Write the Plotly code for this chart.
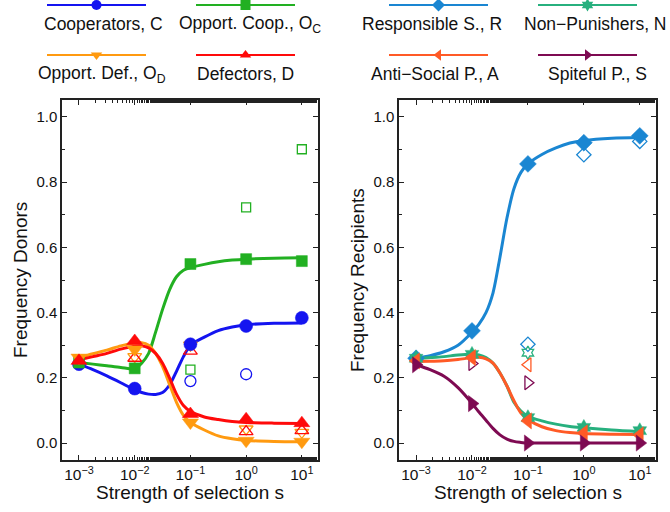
import plotly.graph_objects as go

W, H = 670, 512
FONT = "Liberation Sans, Arial, Helvetica, sans-serif"

# ---------------- data ----------------
s = [1e-3, 1e-2, 1e-1, 1, 10]
s_exp = [1e-2, 1e-1, 1, 10]
curve_log = [-3, -2.75, -2.5, -2.25, -2, -1.875, -1.75, -1.625, -1.5, -1.375,
             -1.25, -1.125, -1, -0.75, -0.5, -0.25, 0, 0.5, 1]

# Donors (simulation = filled, experiment = open)
C_sim = [0.242, 0.167, 0.303, 0.359, 0.384]
OC_sim = [0.247, 0.229, 0.549, 0.564, 0.558]
OD_sim = [0.262, 0.287, 0.063, 0.007, 0.004]
D_sim = [0.252, 0.313, 0.089, 0.073, 0.061]

C_exp = [None, 0.19, 0.211, None]
OC_exp = [None, 0.225, 0.723, 0.901]
OD_exp = [0.265, 0.30, 0.043, 0.033]
D_exp = [0.26, 0.282, 0.035, 0.038]

C_fit = [0.242, 0.225, 0.206, 0.185, 0.163, 0.155, 0.150, 0.149, 0.155, 0.178,
         0.22, 0.265, 0.30, 0.325, 0.345, 0.356, 0.363, 0.367, 0.368]
OC_fit = [0.247, 0.242, 0.237, 0.232, 0.228, 0.245, 0.275, 0.34, 0.41, 0.47,
          0.51, 0.53, 0.538, 0.548, 0.556, 0.561, 0.564, 0.567, 0.568]
OD_fit = [0.262, 0.274, 0.285, 0.298, 0.307, 0.308, 0.300, 0.275, 0.235, 0.18,
          0.125, 0.085, 0.063, 0.04, 0.022, 0.013, 0.008, 0.005, 0.004]
D_fit = [0.255, 0.265, 0.275, 0.288, 0.297, 0.298, 0.292, 0.275, 0.245, 0.2,
         0.15, 0.115, 0.097, 0.08, 0.072, 0.066, 0.063, 0.061, 0.06]

# Recipients
R_sim = [0.26, 0.344, 0.856, 0.921, 0.942]
N_sim = [0.26, 0.272, 0.078, 0.048, 0.038]
A_sim = [0.252, 0.262, 0.068, 0.031, 0.025]
S_sim = [0.24, 0.121, 0.0, 0.0, 0.0]

R_exp = [None, 0.303, 0.884, 0.925]
N_exp = [None, 0.277, None, None]
A_exp = [None, 0.24, None, None]
S_exp = [0.244, 0.185, None, None]

R_fit = [0.26, 0.268, 0.28, 0.30, 0.34, 0.365, 0.40, 0.46, 0.57, 0.69,
         0.78, 0.83, 0.856, 0.885, 0.905, 0.92, 0.928, 0.935, 0.937]
N_fit = [0.258, 0.262, 0.265, 0.27, 0.272, 0.27, 0.262, 0.245, 0.215, 0.175,
         0.125, 0.098, 0.082, 0.068, 0.058, 0.051, 0.047, 0.04, 0.035]
A_fit = [0.25, 0.251, 0.252, 0.256, 0.262, 0.263, 0.258, 0.245, 0.215, 0.175,
         0.13, 0.092, 0.072, 0.05, 0.038, 0.032, 0.029, 0.027, 0.026]
S_fit = [0.24, 0.225, 0.205, 0.17, 0.122, 0.095, 0.07, 0.045, 0.025, 0.012,
         0.005, 0.002, 0.0, 0.0, 0.0, 0.0, 0.0, 0.0, 0.0]

x_ticks = [1e-3, 1e-2, 1e-1, 1, 10]
x_ticktext = ["10<sup>\u22123</sup>", "10<sup>\u22122</sup>", "10<sup>\u22121</sup>",
              "10<sup>0</sup>", "10<sup>1</sup>"]
y_ticks = [0.0, 0.2, 0.4, 0.6, 0.8, 1.0]

# ---------------- styles ----------------
left_series = [
    ("Cooperators, C", "#1414f0", "circle", C_sim, C_exp, C_fit, 13),
    ("Opport. Coop., O<sub>C</sub>", "#22b022", "square", OC_sim, OC_exp, OC_fit, 11),
    ("Opport. Def., O<sub>D</sub>", "#ff9a10", "triangle-down", OD_sim, OD_exp, OD_fit, 14),
    ("Defectors, D", "#ff0a0a", "triangle-up", D_sim, D_exp, D_fit, 14),
]
right_series = [
    ("Responsible S., R", "#1a86d2", "diamond", R_sim, R_exp, R_fit, 13),
    ("Non\u2212Punishers, N", "#27b07e", "hexagram", N_sim, N_exp, N_fit, 12),
    ("Anti\u2212Social P., A", "#ff5a26", "triangle-left", A_sim, A_exp, A_fit, 14),
    ("Spiteful P., S", "#7e0a52", "triangle-right", S_sim, S_exp, S_fit, 14),
]

fig = go.Figure()
curve_x = [10 ** v for v in curve_log]

def add_panel(series, xa, ya):
    for name, col, sym, sim, exp, fit, ms in series:
        fig.add_trace(go.Scatter(x=curve_x, y=fit, mode="lines", xaxis=xa, yaxis=ya,
                                 line=dict(color=col, width=3, shape="spline", smoothing=0.8),
                                 showlegend=False, hoverinfo="skip"))
    for name, col, sym, sim, exp, fit, ms in series:
        fig.add_trace(go.Scatter(x=s_exp, y=exp, mode="markers", xaxis=xa, yaxis=ya,
                                 marker=dict(symbol=sym + "-open", size=ms - 2, color=col,
                                             line=dict(color=col, width=1.3)),
                                 showlegend=False, name=name))
    for name, col, sym, sim, exp, fit, ms in series:
        fig.add_trace(go.Scatter(x=s, y=sim, mode="markers", xaxis=xa, yaxis=ya,
                                 marker=dict(symbol=sym, size=ms, color=col,
                                             line=dict(color=col, width=0.5)),
                                 showlegend=False, name=name))

add_panel(left_series, "x", "y")
add_panel(right_series, "x2", "y2")

# ---------------- legend (drawn on an overlay axis in pixel units) ----------------
leg_rows = [(5, 22), (55, 72)]
leg_cols_left = [(47, 146), (196, 295)]
leg_cols_right = [(389, 488), (538, 637)]
text_cx_left = [103, 250, 102, 245]
text_cx_right = [432, 595, 435, 597]
annotations = []

def add_legend(series, cols, text_cx):
    for i, (name, col, sym, sim, exp, fit, ms) in enumerate(series):
        r, c = divmod(i, 2)
        x0, x1 = cols[c]
        yl, yt = leg_rows[r]
        fig.add_trace(go.Scatter(x=[x0, (x0 + x1) / 2, x1], y=[yl, yl, yl], xaxis="x3", yaxis="y3",
                                 mode="lines", line=dict(color=col, width=2.2),
                                 showlegend=False, hoverinfo="skip"))
        fig.add_trace(go.Scatter(x=[(x0 + x1) / 2], y=[yl], xaxis="x3", yaxis="y3",
                                 mode="markers", marker=dict(symbol=sym, size=10, color=col),
                                 showlegend=False, hoverinfo="skip"))
        annotations.append(dict(x=text_cx[i], y=yt + 2, xref="x3", yref="y3", text=name,
                                showarrow=False, xanchor="center", yanchor="middle",
                                font=dict(size=17.5, color="#111", family=FONT)))

add_legend(left_series, leg_cols_left, text_cx_left)
add_legend(right_series, leg_cols_right, text_cx_right)

# axis titles
annotations += [
    dict(x=190, y=492, xref="x3", yref="y3", text="Strength of selection s", showarrow=False,
         xanchor="center", yanchor="middle", font=dict(size=19, color="#111", family=FONT)),
    dict(x=527.5, y=492, xref="x3", yref="y3", text="Strength of selection s", showarrow=False,
         xanchor="center", yanchor="middle", font=dict(size=19, color="#111", family=FONT)),
    dict(x=20, y=280, xref="x3", yref="y3", text="Frequency Donors", showarrow=False,
         textangle=-90, xanchor="center", yanchor="middle", font=dict(size=19, color="#111", family=FONT)),
    dict(x=357, y=280, xref="x3", yref="y3", text="Frequency Recipients", showarrow=False,
         textangle=-90, xanchor="center", yanchor="middle", font=dict(size=19, color="#111", family=FONT)),
]

def xaxis(domain, anchor):
    return dict(domain=domain, anchor=anchor, type="log", range=[-3.305, 1.29],
                tickvals=x_ticks, ticktext=x_ticktext,
                ticks="inside", ticklen=5, tickwidth=1.2, tickcolor="#222",
                showline=True, linecolor="#222", linewidth=1.5, mirror="ticks",
                showgrid=False, zeroline=False,
                tickfont=dict(size=15.5, color="#111", family=FONT),
                minor=dict(ticks="inside", ticklen=3, tickwidth=1, tickcolor="#222",
                           showgrid=False))

def yaxis(domain, anchor):
    return dict(domain=domain, anchor=anchor, range=[-0.052, 1.052],
                tickvals=y_ticks, tickformat=".1f",
                ticks="inside", ticklen=5, tickwidth=1.2, tickcolor="#222",
                showline=True, linecolor="#222", linewidth=1.5, mirror="ticks",
                showgrid=False, zeroline=False,
                tickfont=dict(size=15, color="#111", family=FONT),
                minor=dict(ticks="inside", ticklen=3, tickwidth=1, tickcolor="#222",
                           dtick=0.1, showgrid=False))

ydom = [1 - 460 / H, 1 - 100 / H]
fig.update_layout(
    width=W, height=H, margin=dict(l=0, r=0, t=0, b=0),
    paper_bgcolor="white", plot_bgcolor="rgba(0,0,0,0)",
    font=dict(family=FONT, color="#111"),
    xaxis=xaxis([62 / W, 318 / W], "y"),
    yaxis=yaxis(ydom, "x"),
    xaxis2=xaxis([399 / W, 656 / W], "y2"),
    yaxis2=yaxis(ydom, "x2"),
    xaxis3=dict(domain=[0, 1], anchor="y3", range=[0, W], visible=False, fixedrange=True),
    yaxis3=dict(domain=[0, 1], anchor="x3", range=[H, 0], visible=False, fixedrange=True),
    annotations=annotations,
    showlegend=False,
)

fig.write_html("out.html", config={"displayModeBar": False},
               post_script="document.body.style.margin='0px';document.body.style.padding='0px';"
                           "document.body.style.overflow='hidden';")
